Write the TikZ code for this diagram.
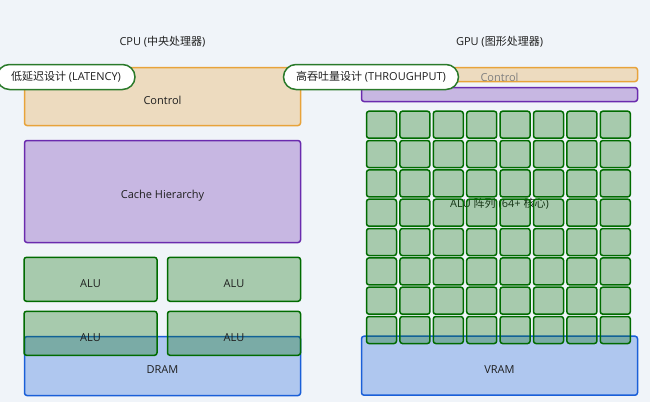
\documentclass[tikz,border=0pt]{standalone}
\usepackage{fontspec}
\setmainfont{Open Sans}
\newfontfamily\cjk{Noto Sans CJK SC}
\usetikzlibrary{positioning}
\definecolor{bgcol}{HTML}{F0F4F9}
\definecolor{txtcol}{HTML}{1F1F1F}
\definecolor{ctrlcol}{HTML}{E8A33A}
\definecolor{cachecol}{HTML}{6A2BAE}
\definecolor{alucol}{RGB}{0,107,0}
\definecolor{memcol}{HTML}{1A5FD8}
\definecolor{pillcol}{HTML}{2A7A2A}
\tikzset{
    box/.style={draw, line width=1.5pt, rounded corners=2.5pt, fill opacity=0.3, inner sep=0pt},
    ctrlbox/.style={box, draw=ctrlcol, fill=ctrlcol},
    cachebox/.style={box, draw=cachecol, fill=cachecol},
    alubox/.style={box, draw=alucol, fill=alucol},
    membox/.style={box, draw=memcol, fill=memcol},
    lbl/.style={font=\fontsize{11}{13}\selectfont, text=txtcol, inner sep=0pt},
    title/.style={font=\fontsize{11}{13}\selectfont, text=txtcol},
    pill/.style={draw=pillcol, fill=white, line width=1.5pt, rounded corners=12.5pt,
                 minimum height=25pt, inner sep=0pt, font=\fontsize{11}{13}\selectfont, text=txtcol}
}

\begin{document}
\begin{tikzpicture}[x=1pt, y=-1pt]
    \fill[bgcol] (0,0) rectangle (650,402);
    \useasboundingbox (0,0) rectangle (650,402);

    % Titles
    \node[title] (cpu-title) at (162.5,42) {CPU ({\cjk 中央处理器})};
    \node[title] (gpu-title) at (499.5,42) {GPU ({\cjk 图形处理器})};

    % CPU side
    \node[ctrlbox, minimum width=276pt, minimum height=58pt] (cpu-ctrl) at (162.5,96.5) {};
    \node[cachebox, minimum width=276pt, minimum height=102pt] (cpu-cache) at (162.5,191.5) {};
    \node[membox, minimum width=276pt, minimum height=59pt] (dram) at (162.5,366) {};
    \node[alubox, minimum width=133pt, minimum height=44pt] (alu-1) at (90.5,279.3) {};
    \node[alubox, minimum width=133pt, minimum height=44pt] (alu-2) at (234,279.3) {};
    \node[alubox, minimum width=133pt, minimum height=44pt] (alu-3) at (90.5,333.3) {};
    \node[alubox, minimum width=133pt, minimum height=44pt] (alu-4) at (234,333.3) {};

    \node[lbl] (cpu-ctrl-lbl) at ([yshift=-3.5pt]cpu-ctrl.center) {Control};
    \node[lbl] (cpu-cache-lbl) at ([yshift=-4.5pt]cpu-cache.center) {Cache Hierarchy};
    \node[lbl] (dram-lbl) at ([yshift=-4pt]dram.center) {DRAM};
    \foreach \i in {1,...,4}
        \node[lbl] (alu-\i-lbl) at ([yshift=-4.5pt]alu-\i.center) {ALU};

    % GPU side
    \node[ctrlbox, minimum width=276pt, minimum height=14pt] (gpu-ctrl) at (499.5,74.5) {};
    \node[cachebox, minimum width=276pt, minimum height=14pt] (gpu-cache) at (499.5,94.5) {};
    \node[membox, minimum width=276pt, minimum height=59pt] (vram) at (499.5,365.7) {};
    \node[lbl, text=gray] (gpu-ctrl-lbl) at ([yshift=-2.5pt]gpu-ctrl.center) {Control};
    \node[lbl] (grid-lbl) at (499.5,203.3) {ALU {\cjk 阵列} (64+ {\cjk 核心})};

    % ALU grid, 8 x 8
    \foreach \r in {0,...,7}
        \foreach \c in {0,...,7}
            \node[alubox, minimum width=30pt, minimum height=27pt] (cell-\r-\c)
                at ({381.5+33.4*\c},{124.7+29.33*\r}) {};

    \node[lbl] (vram-lbl) at ([yshift=-4pt]vram.center) {VRAM};

    % Tags
    \node[pill, minimum width=138pt] (latency) at (66,77) {{\cjk 低延迟设计} (LATENCY)};
    \node[pill, minimum width=175pt] (throughput) at (371,77) {{\cjk 高吞吐量设计} (THROUGHPUT)};
\end{tikzpicture}
\end{document}
